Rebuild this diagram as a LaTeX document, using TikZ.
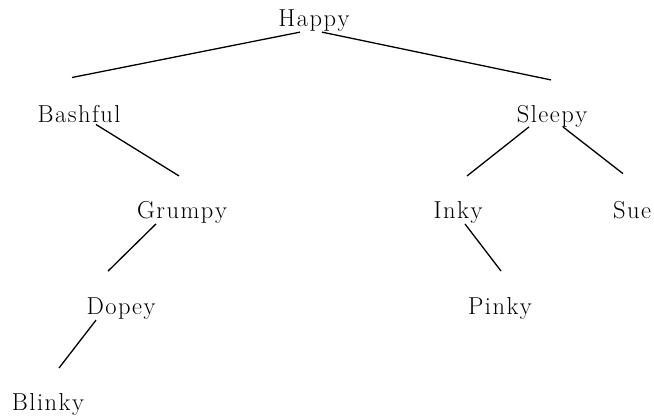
\documentclass[tikz,border=0pt]{standalone}
\usetikzlibrary{calc}
\makeatletter
\newcommand\spacedword[1]{\sw@aux#1\relax}
\def\sw@aux#1#2{#1\ifx\relax#2\else\kern1.5pt\expandafter\sw@aux\expandafter#2\fi}
\makeatother
\begin{document}
\begin{tikzpicture}[x=1pt,y=-1pt,
  nm/.style={anchor=base,inner sep=0pt,font=\fontsize{24.5}{28}\selectfont},
  edge/.style={line width=1.3pt}]
\useasboundingbox (0,0) rectangle (654,418);
\node[nm] (happy) at (314,26) {\spacedword{Happy}};
\node[nm] (bashful) at (79,122) {\spacedword{Bashful}};
\node[nm] (sleepy) at (552,122) {\spacedword{Sleepy}};
\node[nm] (grumpy) at (182,218) {\spacedword{Grumpy}};
\node[nm] (inky) at (458,218) {\spacedword{Inky}};
\node[nm] (sue) at (632,218) {\spacedword{Sue}};
\node[nm] (dopey) at (121,314) {\spacedword{Dopey}};
\node[nm] (pinky) at (500,314) {\spacedword{Pinky}};
\node[nm] (blinky) at (48,410) {\spacedword{Blinky}};
\draw[edge] ($(happy)+(-14,12)$) -- ($(bashful)+(-7,-36)$);
\draw[edge] ($(happy)+(8,12)$) -- ($(sleepy)+(-1,-36)$);
\draw[edge] ($(bashful)+(17,11)$) -- ($(grumpy)+(-3,-36)$);
\draw[edge] ($(sleepy)+(-23,11)$) -- ($(inky)+(9,-36)$);
\draw[edge] ($(sleepy)+(11,11)$) -- ($(sue)+(-9,-36)$);
\draw[edge] ($(grumpy)+(-26,12)$) -- ($(dopey)+(-13,-37)$);
\draw[edge] ($(inky)+(7,12)$) -- ($(pinky)+(1,-37)$);
\draw[edge] ($(dopey)+(-25,12)$) -- ($(blinky)+(11,-36)$);
\end{tikzpicture}
\end{document}
